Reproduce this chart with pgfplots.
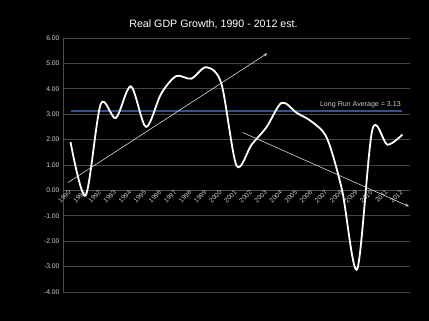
\documentclass[border=0pt]{standalone}
\usepackage{pgfplots}
\pgfplotsset{compat=1.18}
\usetikzlibrary{arrows.meta}
\usepackage{fontspec}
\setmainfont{Liberation Sans}
\definecolor{lrblue}{RGB}{50,80,155}
\definecolor{gridgray}{RGB}{70,70,70}
\definecolor{lblgray}{RGB}{205,205,205}
\begin{document}
\begin{tikzpicture}
\fill[black] (0bp,0bp) rectangle (429bp,321bp);
\node[white, font=\fontsize{10.7}{12}\selectfont] at (213.5bp,297bp) {Real GDP Growth, 1990 - 2012 est.};
\begin{axis}[
  at={(63bp,29bp)}, anchor=south west,
  scale only axis, width=347bp, height=254bp,
  xmin=-0.5, xmax=22.5, ymin=-4, ymax=6,
  axis x line=middle, axis y line=left,
  axis line style={-, draw=gray!60!black, line width=0.8bp},
  every inner x axis line/.append style={-},
  every outer y axis line/.append style={-},
  clip=false,
  xtick={0,...,22},
  xticklabels={1990,1991,1992,1993,1994,1995,1996,1997,1998,1999,2000,2001,2002,2003,2004,2005,2006,2007,2008,2009,2010,2011,2012},
  xticklabel style={rotate=45, anchor=east, font=\fontsize{6.6}{8}\selectfont, text=lblgray, inner sep=1bp},
  ytick={-4,...,6},
  yticklabel style={font=\fontsize{6.8}{8}\selectfont, text=lblgray,
    /pgf/number format/fixed, /pgf/number format/fixed zerofill,
    /pgf/number format/precision=2, /pgf/number format/assume math mode=true},
  major tick length=0pt,
  ymajorgrids, major grid style={draw=gridgray, line width=0.8bp},
]
\addplot[lrblue, line width=2.2bp] coordinates {(0,3.13) (22,3.13)};
\node[anchor=base east, text=lblgray, font=\fontsize{7.1}{8}\selectfont, inner sep=0pt] at (axis cs:21.9,3.31) {Long Run Average = 3.13};
\addplot[white, line width=1.8bp, smooth, tension=0.5] coordinates {
(0,1.9) (1,-0.2) (2,3.4) (3,2.85) (4,4.1) (5,2.5) (6,3.8) (7,4.5) (8,4.4) (9,4.85)
(10,4.2) (11,0.98) (12,1.8) (13,2.5) (14,3.45) (15,3.05) (16,2.7) (17,2.05) (18,0.0)
(19,-3.1) (20,2.38) (21,1.8) (22,2.2)};
\addplot[white!85!black, line width=0.6bp, -{Stealth[open,length=4bp,width=3bp]}] coordinates {(-0.17,0.31) (13.05,5.4)};
\addplot[white!85!black, line width=0.6bp, -{Stealth[open,length=4bp,width=3bp]}] coordinates {(11.41,2.28) (22.43,-0.63)};
\end{axis}
\pgfresetboundingbox
\useasboundingbox (0bp,0bp) rectangle (429bp,321bp);
\end{tikzpicture}
\end{document}
